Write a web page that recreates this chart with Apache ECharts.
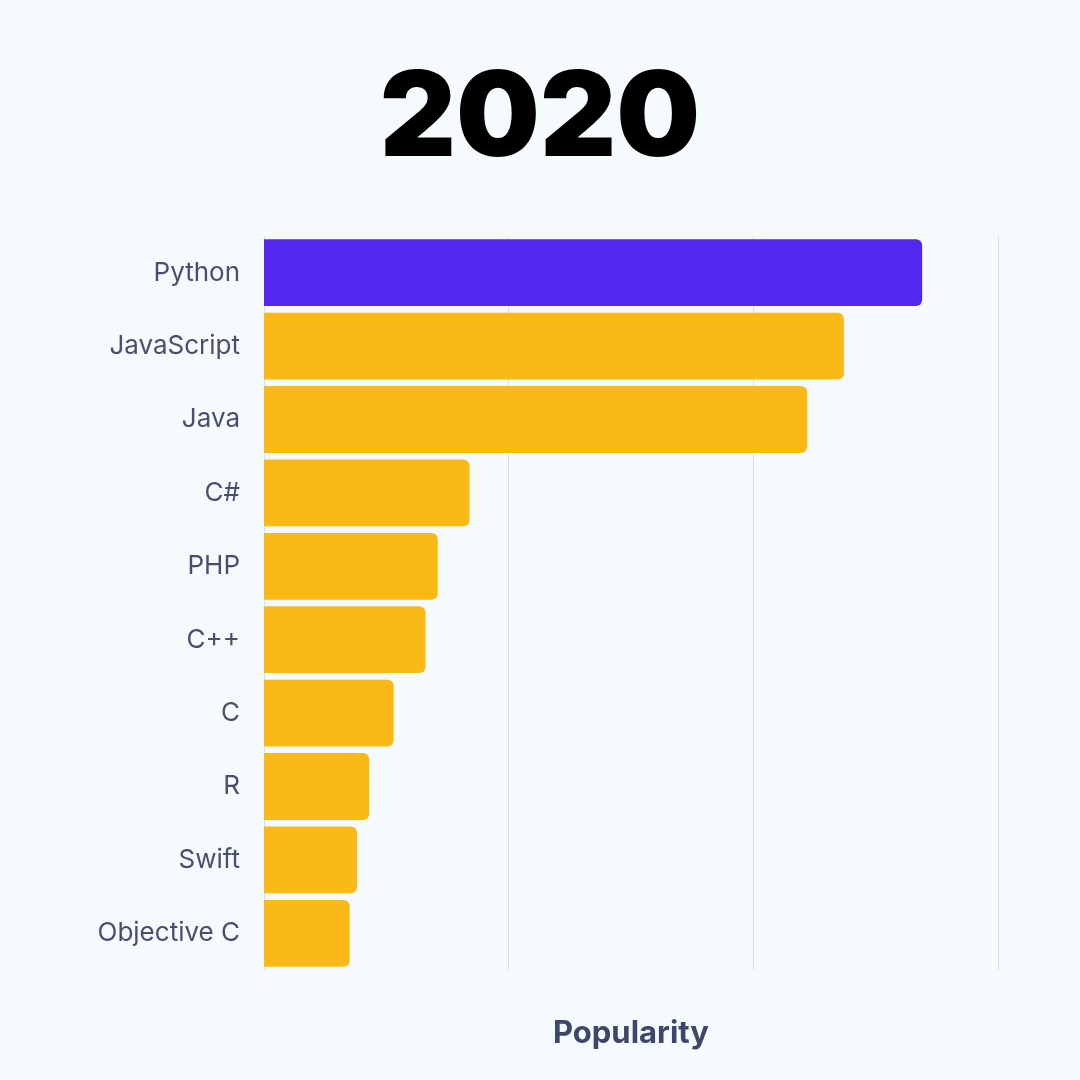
<!DOCTYPE html>
<html><head><meta charset="utf-8">
<script src="https://cdn.jsdelivr.net/npm/echarts@6/dist/echarts.min.js"></script>
<style>html,body{margin:0;padding:0;background:#f5fafd}#c{width:1080px;height:1080px}</style>
</head><body><div id="c"></div>
<script>
const categories = ["Python","JavaScript","Java","C#","PHP","C++","C","R","Swift","Objective C"];
const values = [26.9, 23.7, 22.2, 8.4, 7.1, 6.6, 5.3, 4.3, 3.8, 3.5];
const highlight = "Python";
const chart = echarts.init(document.getElementById('c'));
chart.setOption({
  backgroundColor: '#f5fafd',
  graphic: [{
    type: 'text', left: 'center', top: 62,
    style: {
      text: '2020', font: '900 118px Inter, "Noto Sans", sans-serif',
      fill: new echarts.graphic.LinearGradient(0, 0, 1, 0, [
        {offset: 0, color: '#5a1ef2'}, {offset: 0.6, color: '#8a10ee'}, {offset: 1, color: '#a535c4'}
      ])
    }
  }],
  grid: {left: 264, right: 82, top: 236, bottom: 110},
  xAxis: {
    type: 'value', min: 0, max: 30, interval: 10,
    name: 'Popularity', nameLocation: 'middle', nameGap: 48,
    nameTextStyle: {fontSize: 31, fontWeight: 'bold', color: '#3f4768', fontFamily: 'Inter, sans-serif'},
    axisLabel: {show: false}, axisLine: {show: false}, axisTick: {show: false},
    splitLine: {lineStyle: {color: '#d8dde3', width: 1}}
  },
  yAxis: {
    type: 'category', data: categories, inverse: true,
    axisLine: {show: false}, axisTick: {show: false},
    axisLabel: {fontSize: 26, color: '#4a4e6e', margin: 24, fontFamily: 'Inter, sans-serif'}
  },
  series: [{
    type: 'bar', barCategoryGap: '9%',
    data: values.map((v, i) => ({
      value: v,
      itemStyle: {color: categories[i] === highlight ? '#5327ee' : '#fbb917'}
    })),
    itemStyle: {borderRadius: [0, 6, 6, 0]}
  }]
});
</script></body></html>
